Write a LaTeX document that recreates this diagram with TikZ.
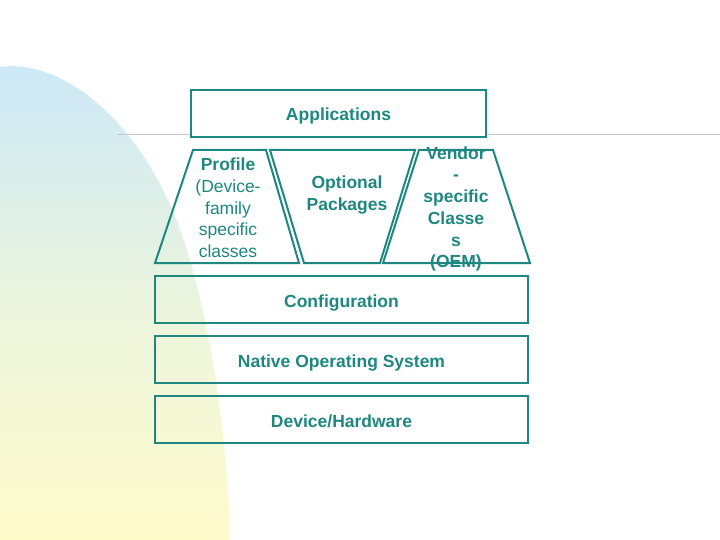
\documentclass[tikz,border=0pt]{standalone}
\usepackage{fontspec}
\setmainfont{Liberation Sans}
\definecolor{layerteal}{RGB}{30,135,128}
\definecolor{blobblue}{RGB}{204,232,248}
\definecolor{blobyellow}{RGB}{255,252,204}
\begin{document}
\begin{tikzpicture}[x=1pt, y=-1pt,
    layer/.style={draw=layerteal, line width=2pt},
    box/.style={layer, rectangle, minimum width=373pt, minimum height=47pt, inner sep=0pt, text height=15pt, text depth=0pt},
    label/.style={text=layerteal, font=\fontsize{17.5}{21.7}\selectfont\bfseries, align=center, inner sep=0pt}]
    \useasboundingbox (0,0) rectangle (720,540);
    % background blob and rule
    \shade[top color=blobblue, bottom color=blobyellow, middle color=blobblue!40!blobyellow]
        (0,540) -- (0,67) .. controls (60,58) and (150,120) .. (190,260)
        .. controls (215,350) and (228,450) .. (230,540) -- cycle;
    \draw[gray!45, line width=0.8pt] (117,134) -- (720,134);
    % top layer
    \node[box, label, fill=white, minimum width=295pt] (apps) at (338.5,113.5) {Applications};
    % middle layer
    \draw[layer] (193,150) -- (266,150) -- (299,263) -- (155,263) -- cycle;
    \draw[layer] (270,150) -- (415,150) -- (380,263) -- (304,263) -- cycle;
    \draw[layer] (419,150) -- (493,150) -- (530,263) -- (383,263) -- cycle;
    \node[label] (profile) at (228,208) {Profile\\\mdseries(Device-\\\mdseries family\\\mdseries specific\\\mdseries classes};
    \node[label] (optional) at (347,195) {Optional\\Packages};
    \node[label] (vendor) at (456,209) {Vendor\\-\\specific\\Classe\\s\\(OEM)};
    % lower layers
    \node[box, label] (config) at (341.5,299.5) {Configuration};
    \node[box, label] (native) at (341.5,359.5) {Native Operating System};
    \node[box, label] (device) at (341.5,419.5) {Device/Hardware};
\end{tikzpicture}
\end{document}
